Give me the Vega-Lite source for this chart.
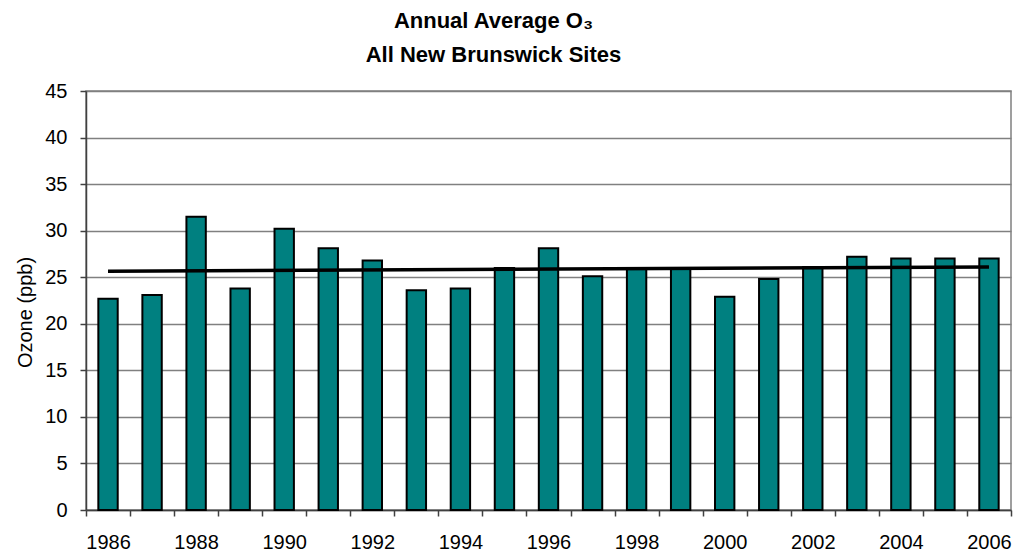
{
  "$schema": "https://vega.github.io/schema/vega-lite/v6.json",
  "width": 925,
  "height": 419,
  "autosize": "none",
  "padding": {"left": 86, "top": 91, "right": 7, "bottom": 46},
  "background": "#ffffff",
  "title": {
    "text": ["Annual Average O₃", "All New Brunswick Sites"],
    "font": "Liberation Sans",
    "fontSize": 22,
    "fontWeight": "bold",
    "color": "#000000",
    "lineHeight": 34,
    "anchor": "middle",
    "frame": "group",
    "dx": -55,
    "offset": 14
  },
  "config": {
    "view": {"stroke": "#808080", "strokeWidth": 1.5},
    "axis": {
      "labelFont": "Liberation Sans",
      "labelFontSize": 20,
      "labelColor": "#000000",
      "titleFont": "Liberation Sans",
      "titleFontSize": 20,
      "titleFontWeight": "normal",
      "titleColor": "#000000",
      "domainColor": "#404040",
      "domainWidth": 1.5,
      "tickColor": "#404040",
      "tickWidth": 1.5,
      "tickSize": 6
    }
  },
  "datasets": {
    "bars": [
      {"year": 1986, "ozone": 22.7},
      {"year": 1987, "ozone": 23.1},
      {"year": 1988, "ozone": 31.5},
      {"year": 1989, "ozone": 23.8},
      {"year": 1990, "ozone": 30.2},
      {"year": 1991, "ozone": 28.1},
      {"year": 1992, "ozone": 26.8},
      {"year": 1993, "ozone": 23.6},
      {"year": 1994, "ozone": 23.8},
      {"year": 1995, "ozone": 26.0},
      {"year": 1996, "ozone": 28.1},
      {"year": 1997, "ozone": 25.1},
      {"year": 1998, "ozone": 26.0},
      {"year": 1999, "ozone": 26.0},
      {"year": 2000, "ozone": 22.9},
      {"year": 2001, "ozone": 24.8},
      {"year": 2002, "ozone": 26.1},
      {"year": 2003, "ozone": 27.2},
      {"year": 2004, "ozone": 27.0},
      {"year": 2005, "ozone": 27.0},
      {"year": 2006, "ozone": 27.0}
    ],
    "trend": [
      {"year": 1986, "trend": 25.65},
      {"year": 2006, "trend": 26.1}
    ]
  },
  "layer": [
    {
      "data": {"name": "bars"},
      "mark": {"type": "bar", "fill": "#008080", "stroke": "#000000", "strokeWidth": 2, "width": {"band": 0.44}},
      "encoding": {
        "x": {
          "field": "year",
          "type": "ordinal",
          "scale": {"paddingInner": 0, "paddingOuter": 0},
          "axis": {
            "title": null,
            "tickBand": "extent",
            "labelAngle": 0,
            "labelPadding": 16,
            "labelExpr": "datum.value % 2 == 0 ? datum.label : ''",
            "grid": false
          }
        },
        "y": {
          "field": "ozone",
          "type": "quantitative",
          "scale": {"domain": [0, 45], "nice": false},
          "axis": {
            "title": "Ozone (ppb)",
            "values": [0, 5, 10, 15, 20, 25, 30, 35, 40, 45],
            "grid": true,
            "gridColor": "#808080",
            "gridWidth": 1.5,
            "labelPadding": 13,
            "titlePadding": 9,
            "titleY": 221
          }
        }
      }
    },
    {
      "data": {"name": "trend"},
      "mark": {"type": "line", "color": "#000000", "strokeWidth": 3.5},
      "encoding": {
        "x": {"field": "year", "type": "ordinal"},
        "y": {"field": "trend", "type": "quantitative"}
      }
    }
  ]
}
